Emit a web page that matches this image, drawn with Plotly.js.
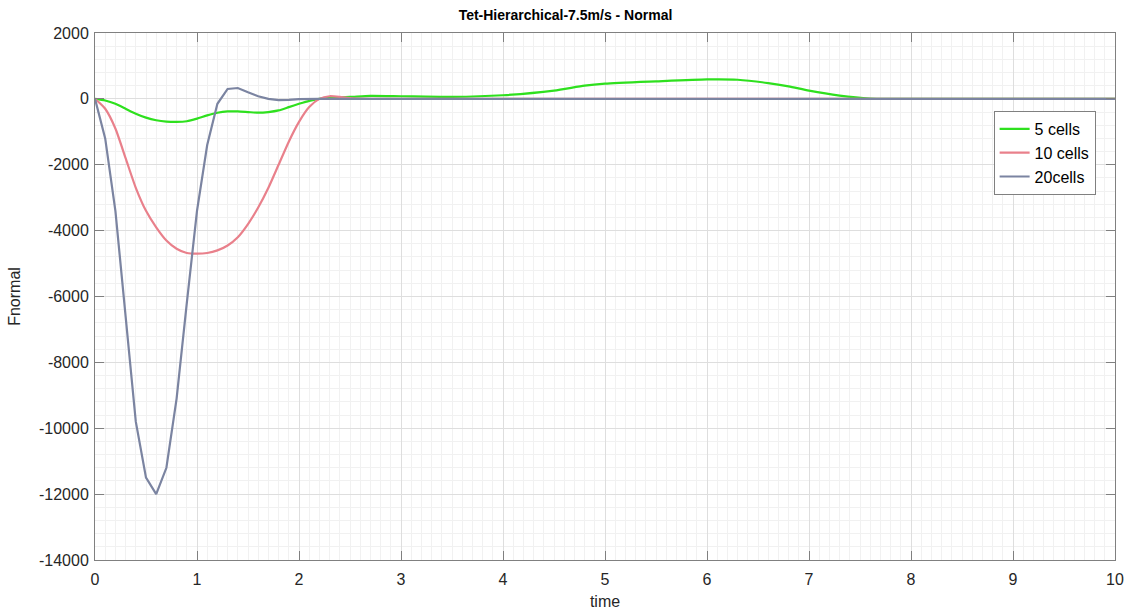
<!DOCTYPE html>
<html>
<head>
<meta charset="utf-8">
<script src="https://cdn.plot.ly/plotly-3.0.1.min.js"></script>
<style>html,body{margin:0;padding:0;background:#fff;}#chart{width:1131px;height:615px;}</style>
</head>
<body>
<div id="chart"></div>
<script>
var seriesNames = ["5 cells", "10 cells", "20cells"];

var time5 = [0,0.1,0.2,0.3,0.4,0.5,0.6,0.7,0.8,0.9,1.0,1.1,1.2,1.3,1.4,1.5,1.6,1.7,1.8,1.9,2.0,2.1,2.2,2.3,2.5,2.7,3.0,3.5,4.0,4.5,4.8,5.0,5.5,6.0,6.3,6.6,6.8,7.0,7.3,7.6,7.8,8.0,9.0,10.0];
var cells5 = [0,-50,-150,-300,-450,-570,-650,-690,-700,-680,-600,-500,-420,-380,-380,-400,-420,-400,-350,-250,-150,-60,0,40,60,90,80,60,110,250,400,460,530,590,580,480,380,250,100,10,0,0,0,0];

var time10 = [0,0.1,0.2,0.3,0.4,0.5,0.6,0.7,0.8,0.9,1.0,1.1,1.2,1.3,1.4,1.5,1.6,1.7,1.8,1.9,2.0,2.1,2.2,2.3,2.4,2.5,2.7,3.0,4.0,5.0,6.0,7.0,8.0,9.0,10.0];
var cells10 = [0,-300,-900,-1800,-2700,-3400,-3900,-4300,-4550,-4680,-4700,-4680,-4600,-4450,-4200,-3800,-3300,-2700,-2000,-1300,-700,-250,0,80,60,20,0,0,0,0,0,0,0,0,0];

var time20 = [0,0.1,0.2,0.3,0.4,0.5,0.6,0.7,0.8,0.9,1.0,1.1,1.2,1.3,1.4,1.5,1.6,1.7,1.8,1.9,2.0,2.2,2.5,3.0,4.0,5.0,6.0,7.0,8.0,9.0,10.0];
var cells20 = [0,-1200,-3400,-6600,-9800,-11500,-12000,-11200,-9100,-6200,-3400,-1400,-150,300,330,200,80,0,-40,-30,-10,0,0,0,0,0,0,0,0,0,0];

var xTicks = [0,1,2,3,4,5,6,7,8,9,10];
var yTicks = [2000,0,-2000,-4000,-6000,-8000,-10000,-12000,-14000];

var colors = ["#2ee01e", "#e9808b", "#7b84a1"];
var traces = [
  {x: time5, y: cells5, name: seriesNames[0]},
  {x: time10, y: cells10, name: seriesNames[1]},
  {x: time20, y: cells20, name: seriesNames[2]}
].map(function(t, i){
  t.type = "scatter"; t.mode = "lines";
  t.line = {color: colors[i], width: 2.2, shape: i === 2 ? "linear" : "spline", smoothing: 0.6};
  return t;
});
var font = "Liberation Sans, Arial, sans-serif";
var layout = {
  width: 1131, height: 615,
  margin: {l: 95, r: 16, t: 33, b: 55},
  paper_bgcolor: "#ffffff", plot_bgcolor: "#ffffff",
  showlegend: true,
  title: {text: "<b>Tet-Hierarchical-7.5m/s - Normal</b>", font: {family: font, size: 14, color: "#000"}, x: 0.5, xanchor: "center", y: 0.975, yanchor: "middle"},
  xaxis: {
    range: [0, 10], tickvals: xTicks, ticktext: xTicks.map(String),
    showgrid: true, gridcolor: "#dedede", gridwidth: 1,
    minor: {dtick: 0.1, showgrid: true, gridcolor: "#f1f1f1", gridwidth: 1, ticks: ""},
    showline: true, linecolor: "#808080", linewidth: 1, mirror: "ticks",
    ticks: "inside", ticklen: 9, tickcolor: "#808080",
    zeroline: false, ticklabelstandoff: 5,
    tickfont: {family: font, size: 16, color: "#262626"},
    title: {text: "time", font: {family: font, size: 16, color: "#262626"}, standoff: 8}
  },
  yaxis: {
    range: [-14000, 2000], tickvals: yTicks, ticktext: yTicks.map(String),
    showgrid: true, gridcolor: "#dedede", gridwidth: 1,
    minor: {dtick: 400, showgrid: true, gridcolor: "#f1f1f1", gridwidth: 1, ticks: ""},
    showline: true, linecolor: "#808080", linewidth: 1, mirror: "ticks",
    ticks: "inside", ticklen: 9, tickcolor: "#808080",
    zeroline: false, ticklabelstandoff: 2,
    tickfont: {family: font, size: 16, color: "#262626"},
    title: {text: "Fnormal", font: {family: font, size: 16, color: "#262626"}, standoff: 14}
  },
  legend: {
    x: 0.881, y: 0.852, xanchor: "left", yanchor: "top",
    bgcolor: "#ffffff", bordercolor: "#808080", borderwidth: 1,
    font: {family: font, size: 16, color: "#000"},
    tracegroupgap: 0, itemwidth: 30
  }
};
Plotly.newPlot("chart", traces, layout, {displayModeBar: false, staticPlot: true});
</script>
</body>
</html>
